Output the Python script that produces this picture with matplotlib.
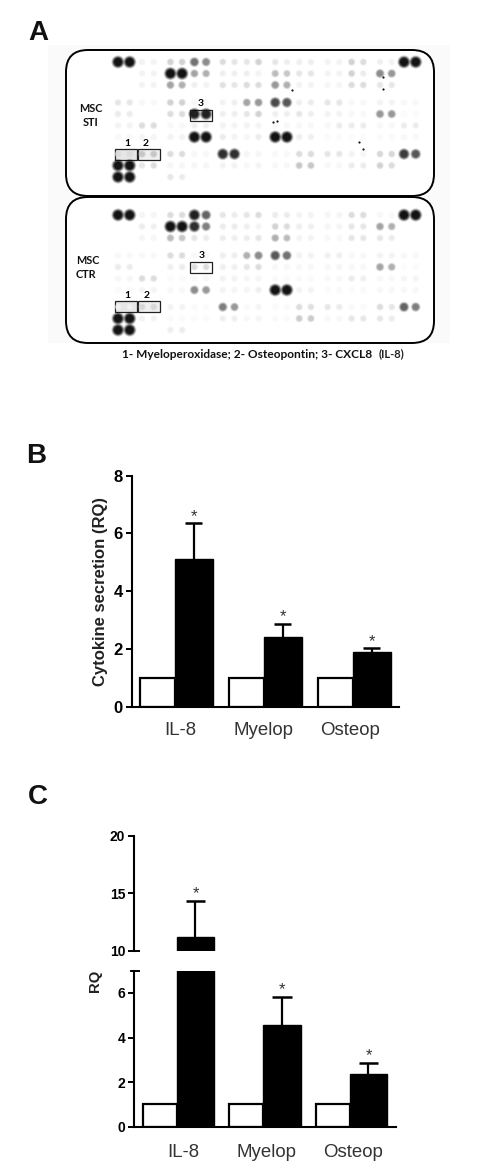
#!/usr/bin/env python3

import numpy as np
import matplotlib.pyplot as plt
from matplotlib.patches import FancyBboxPatch, Rectangle

W, H = 500, 1176

# PANEL A: spot intensities (0 = blank, 1 = saturated), 10 rows x 24 spots
spots_sti = [
    [1, 1, .08, .08, .25, .25, .65, .55, .2, .15, .15, .25, .15, .1, .1, .1, .08, .08, .25, .2, .1, .08, 1, 1],
    [0, 0, .08, .08, 1, 1, .45, .4, .1, .1, .1, .08, .35, .3, .15, .15, .08, .08, .25, .12, .55, .5, 0, 0],
    [0, 0, .08, .08, .45, .4, .1, .08, .18, .15, .2, .2, .5, .4, .08, .08, .06, .06, .2, .2, .15, .15, 0, 0],
    [.15, .15, .05, .05, .25, .25, .05, .05, .08, .1, .45, .5, .8, .75, .1, .12, .15, .15, .05, .05, .08, .08, .05, .05],
    [.12, .12, 0, 0, .2, .2, .95, .95, .1, .1, .15, .25, .1, .1, .15, .1, .08, .08, .05, .05, .5, .5, .03, .03],
    [.08, .08, .2, .2, .05, .05, .1, .1, .08, .08, .08, .08, .05, .05, .05, .05, .05, .12, .12, .12, .05, .05, .12, .12],
    [.05, .05, .07, .07, .08, .08, 1, 1, .12, .08, .06, .12, 1, 1, .1, .1, .03, .03, .03, .03, .04, .04, .05, .05],
    [.2, .2, .3, .3, .2, .2, .05, .05, .9, .9, .06, .06, .05, .05, .2, .2, .15, .15, .08, .06, .22, .22, .85, .75],
    [1, 1, .15, .2, .06, .06, .06, .06, .08, .08, .05, .08, .05, .05, .3, .3, .05, .05, .12, .12, .25, .2, 0, 0],
    [1, 1, 0, 0, .15, .12, 0, 0, 0, 0, 0, 0, 0, 0, 0, 0, 0, 0, 0, 0, 0, 0, 0, 0],
]
spots_ctr = [
    [1, 1, .07, .07, .2, .2, .95, .7, .15, .12, .15, .2, .12, .12, .08, .08, .07, .07, .2, .2, .05, .05, 1, 1],
    [0, 0, .12, .1, 1, 1, .9, .6, .12, .12, .1, .08, .25, .2, .1, .1, .06, .06, .15, .15, .45, .4, 0, 0],
    [0, 0, .06, .06, .35, .3, .15, .12, .12, .1, .12, .15, .4, .35, .08, .08, .05, .05, .15, .15, .15, .12, 0, 0],
    [.05, .05, .05, .05, .2, .2, .05, .05, .1, .1, .4, .55, .75, .65, .08, .08, .1, .1, .05, .05, .08, .08, .05, .05],
    [.12, .12, 0, 0, .1, .12, .2, .2, .1, .1, .15, .2, .05, .05, .05, .05, .05, .06, .05, .05, .45, .4, .03, .03],
    [.06, .06, .2, .2, .03, .03, .05, .05, .08, .08, .06, .06, .04, .04, .04, .04, .05, .05, .12, .1, .05, .05, .07, .07],
    [.04, .04, .07, .07, .05, .05, .55, .5, .08, .07, .07, .1, 1, 1, .08, .08, .04, .04, .04, .04, .05, .05, .05, .05],
    [.08, .08, .22, .22, .08, .08, .04, .04, .6, .5, .04, .07, .04, .04, .2, .18, .15, .12, .04, .04, .2, .15, .7, .6],
    [1, 1, .08, .08, .04, .04, .03, .03, .1, .1, .05, .07, .04, .04, .28, .28, .05, .05, .15, .15, .15, .12, 0, 0],
    [1, 1, 0, 0, .1, .12, 0, 0, 0, 0, 0, 0, 0, 0, 0, 0, 0, 0, 0, 0, 0, 0, 0, 0],
]

# PANELS B and C
groups = ['IL-8', 'Myelop', 'Osteop']
ctrl_b = [1, 1, 1]
stim_b = [5.1, 2.4, 1.9]
top_b = [6.35, 2.87, 2.03]
ticks_b = [0, 2, 4, 6, 8]
ctrl_c = [1, 1, 1]
stim_c = [11.2, 4.55, 2.35]
top_c = [14.3, 5.8, 2.85]
ticks_c_low = [0, 2, 4, 6]
ticks_c_high = [10, 15, 20]

plt.rcParams['font.family'] = ['Liberation Sans', 'DejaVu Sans']


def spot_positions():
    """Pixel centres of the array spots, blocks of two pairs across"""
    xs = [118 + 52.4*(i//4) + 24*((i//2) % 2) + 11.7*(i % 2) for i in range(24)]
    rows = np.arange(10)
    ys = 62 + 11.5*rows + 6*(rows > 2) + 5.5*(rows > 6)
    return np.array(xs), ys


def draw_spots(ax, spots, y0):
    """Soft grey dots, big and dark for strong signal"""
    xs, ys = spot_positions()
    vals = np.array(spots, dtype=float)
    gx, gy = np.meshgrid(xs, ys + y0)
    keep = vals > 0
    gx, gy, vals = gx[keep], gy[keep], vals[keep]
    diam = 6 + 5.2*vals**1.5
    shade = np.clip(1 - vals**1.2*.98, 0, 1)
    for scale, alpha in [(1.2, .15), (1.05, .3), (.9, .5), (.7, .8)]:
        colors = np.column_stack([shade, shade, shade, np.full(len(vals), alpha)])
        ax.scatter(gx, gy, s=(diam*scale*.72)**2, c=colors, linewidths=0, zorder=2)


def draw_panel_a(ax):
    ax.add_patch(Rectangle((48, 45), 402, 298, fc='#fafafa', ec='none', zorder=0))
    for top, bottom in [(50, 196), (197, 343)]:
        ax.add_patch(FancyBboxPatch((66 + 22, top + 22), 368 - 44, bottom - top - 44,
                                    boxstyle='round,pad=22,rounding_size=22',
                                    fc='white', ec='black', lw=1.4, zorder=1))
    # boxes around the named spots
    for x, y, w, h, fill in [(114.5, 149, 22, 11, '#e6e6e6'), (137.5, 149, 22, 11, '#f0f0f0'),
                             (189.5, 109.5, 22, 11.5, 'white'), (114.5, 301, 22, 11, '#e6e6e6'),
                             (137.5, 301, 22, 11, '#f0f0f0'), (189.5, 261.5, 22, 11.5, 'white')]:
        ax.add_patch(Rectangle((x, y), w, h, fc=fill, ec='#222222', lw=.9, zorder=1.5))
    draw_spots(ax, spots_sti, 0)
    draw_spots(ax, spots_ctr, 153)

    # dust on the membrane
    ax.scatter([382.7, 383, 292, 273, 277, 359, 363], [76.7, 89, 90, 122, 121, 142, 149],
               s=2.5, color='#111111', linewidths=0, zorder=3)

    for x, y, s in [(127, 144, '1'), (146, 144, '2'), (201, 104, '3'),
                    (127, 296, '1'), (147, 296, '2'), (202, 256, '3')]:
        ax.text(x, y, s, ha='center', va='center', fontsize=7.5, fontweight='bold',
                family='Lato', zorder=4)
    for x, y, s in [(91, 109, 'MSC'), (91, 123, 'STI'), (88, 261, 'MSC'), (86, 275, 'CTR')]:
        ax.text(x, y, s, ha='center', va='center', fontsize=7.8, fontweight='bold',
                family='Lato', color='#111111', zorder=4)

    ax.text(122, 354, '1- Myeloperoxidase; 2- Osteopontin; 3- CXCL8', ha='left', va='center',
            fontsize=8.6, fontweight='bold', family='Lato', color='#111111')
    ax.text(379, 354, '(IL-8)', ha='left', va='center', fontsize=8, fontweight='bold',
            family='Lato', color='#222222')

    for x, y, s in [(38, 33, 'A'), (36, 456, 'B'), (38, 797, 'C')]:
        ax.text(x, y, s, ha='center', va='center', fontsize=20, fontweight='bold', color='#111111')


def axes_px(fig, left, right, top, bottom):
    """Axes placed by pixel edges, y measured from the top of the image"""
    return fig.add_axes([left/W, 1 - bottom/H, (right - left)/W, (bottom - top)/H])


def style_axes(ax, label_size):
    ax.spines[['top', 'right']].set_visible(False)
    ax.spines[['left', 'bottom']].set_linewidth(1.5)
    ax.tick_params(axis='y', length=4.3, width=1.4, pad=2, labelsize=label_size)
    for lab in ax.get_yticklabels():
        lab.set_fontweight('bold')
    ax.patch.set_alpha(0)


def draw_bars(ax, ctrl, stim, top, w_ctrl, w_stim, cap):
    pos = np.arange(len(ctrl))
    mid = pos + w_stim/2
    ax.bar(pos - w_ctrl, ctrl, w_ctrl, align='edge', fc='white', ec='black', lw=1.6, zorder=2)
    ax.bar(pos, stim, w_stim, align='edge', fc='black', ec='black', lw=1, zorder=3)
    ax.vlines(mid, stim, top, color='black', lw=1.6, zorder=2)
    ax.hlines(top, mid - cap, mid + cap, color='black', lw=1.8, zorder=2)


def add_stars(ax, x, top, offset):
    for xi, t in zip(x, top):
        if ax.get_ylim()[0] <= t <= ax.get_ylim()[1]:
            ax.annotate('*', (xi, t), xytext=(0, offset), textcoords='offset points', ha='center',
                        va='center', fontsize=12, color='#333333')


def draw_panel_b(fig):
    ax = axes_px(fig, 131.7, 399, 475.7, 706.7)
    ax.set_xlim(-.4865, 2.517)
    ax.set_ylim(0, 8)
    draw_bars(ax, ctrl_b, stim_b, top_b, .393, .427, .0955)
    ax.set_yticks(ticks_b)
    style_axes(ax, 12)
    ax.set_xticks([.056, .989, 1.966], groups)
    ax.tick_params(axis='x', length=0, pad=11, labelsize=13.4, labelcolor='#333333')
    ax.set_ylabel('Cytokine secretion (RQ)', fontsize=12, fontweight='bold', color='#222222', labelpad=4)
    add_stars(ax, np.arange(3) + .2135, top_b, 5)


def draw_panel_c(fig):
    xlim = (-.497, 2.532)
    low = axes_px(fig, 134, 396, 970.7, 1126.7)
    high = axes_px(fig, 134, 396, 835.7, 950.7)
    for ax, ylim, ticks in [(low, (0, 7), ticks_c_low), (high, (10, 20), ticks_c_high)]:
        ax.set_xlim(*xlim)
        ax.set_ylim(*ylim)
        draw_bars(ax, ctrl_c, stim_c, top_c, .393, .428, .11)
        ax.set_yticks(ticks)
        style_axes(ax, 10)
    high.spines['bottom'].set_visible(False)
    high.set_xticks([])
    low.set_xticks([.069, 1.04, 2.04], groups)
    low.tick_params(axis='x', length=0, pad=12.5, labelsize=13.4, labelcolor='#333333')

    # break marks on the y axis
    low.plot([-.012, .019], [1, 1], transform=low.transAxes, clip_on=False, color='black', lw=1.4)
    high.plot([0, .019], [0, 0], transform=high.transAxes, clip_on=False, color='black', lw=1.4)

    add_stars(low, np.arange(3) + .214, top_c, 5.5)
    add_stars(high, np.arange(3) + .214, top_c, 5.5)
    fig.text(95/W, 1 - 981/H, 'RQ', rotation=90, ha='center', va='center', fontsize=10.7, color='#222222',
             fontweight='bold')


def main():
    fig = plt.figure(figsize=(W/100, H/100), dpi=100, facecolor='white')
    canvas = fig.add_axes([0, 0, 1, 1])
    canvas.set_xlim(0, W)
    canvas.set_ylim(H, 0)
    canvas.axis('off')
    draw_panel_a(canvas)
    draw_panel_b(fig)
    draw_panel_c(fig)
    fig.savefig('out.png', dpi=100)


if __name__ == "__main__":
    main()
